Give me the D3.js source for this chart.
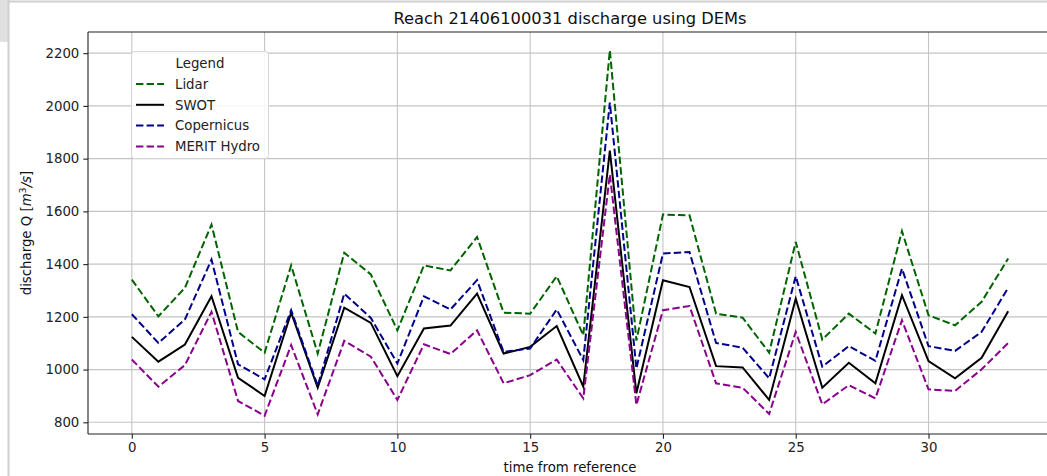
<!DOCTYPE html>
<html>
<head>
<meta charset="utf-8">
<script src="https://cdn.jsdelivr.net/npm/d3@7"></script>
<style>
  html, body { margin: 0; padding: 0; background: #fff; }
  svg { display: block; font-family: "DejaVu Sans", sans-serif; }
</style>
</head>
<body>
<svg id="chart" width="1047" height="476"></svg>
<script>
const times = d3.range(0, 34);
const lidar = [1341, 1202, 1310, 1550, 1143, 1064, 1395, 1061, 1443, 1361,
               1149, 1395, 1376, 1503, 1216, 1212, 1354, 1130, 2211, 1110,
               1588, 1585, 1212, 1197, 1064, 1484, 1114, 1212, 1137, 1525,
               1206, 1168, 1257, 1421];
const swot = [1124, 1030, 1095, 1278, 969, 900, 1216, 931, 1235, 1177,
              975, 1156, 1167, 1288, 1061, 1086, 1165, 935, 1830, 910,
              1339, 1313, 1013, 1008, 885, 1269, 931, 1026, 948, 1282,
              1032, 967, 1045, 1221];
const copernicus = [1210, 1101, 1190, 1417, 1020, 963, 1225, 938, 1288, 1196,
                    1023, 1278, 1228, 1339, 1067, 1080, 1228, 1036, 2013, 1004,
                    1440, 1446, 1101, 1083, 967, 1354, 1011, 1089, 1033, 1383,
                    1089, 1071, 1143, 1310];
const merit = [1038, 935, 1017, 1219, 881, 825, 1093, 830, 1109, 1049,
               885, 1096, 1059, 1149, 948, 979, 1038, 891, 1740, 866,
               1225, 1241, 948, 931, 832, 1143, 868, 941, 891, 1187,
               925, 919, 1001, 1101];
const xTicks = [0, 5, 10, 15, 20, 25, 30];
const yTicks = [800, 1000, 1200, 1400, 1600, 1800, 2000, 2200];
const seriesNames = ["Lidar", "SWOT", "Copernicus", "MERIT Hydro"];
const seriesColors = ["#006400", "#000000", "#00008b", "#8b008b"];
const seriesDashed = [true, false, true, true];
const seriesValues = [lidar, swot, copernicus, merit];

const svg = d3.select("#chart");
const W = 1047, H = 476;
const L = 88, R = 1052, T = 32, B = 434;

// notebook frame decoration
svg.append("rect").attr("x", 0).attr("y", 0).attr("width", 8).attr("height", 42).attr("fill", "#e0e0e0");
svg.append("line").attr("x1", 8.5).attr("x2", 8.5).attr("y1", 0).attr("y2", H).attr("stroke", "#d0d0d0").attr("stroke-width", 2);
svg.append("line").attr("x1", 8).attr("x2", W).attr("y1", 1.5).attr("y2", 1.5).attr("stroke", "#d0d0d0").attr("stroke-width", 2);

const x = d3.scaleLinear().domain([-1.65, 34.65]).range([L, R]);
const y = d3.scaleLinear().domain([755.7, 2280.3]).range([B, T]);

// grid
const grid = svg.append("g");
grid.selectAll(".gx").data(xTicks).enter().append("line")
  .attr("x1", d => x(d)).attr("x2", d => x(d)).attr("y1", T).attr("y2", B)
  .attr("stroke", "#c4c4c4").attr("stroke-width", 1.1);
grid.selectAll(".gy").data(yTicks).enter().append("line")
  .attr("x1", L).attr("x2", R).attr("y1", d => y(d)).attr("y2", d => y(d))
  .attr("stroke", "#c4c4c4").attr("stroke-width", 1.1);

// lines
const clip = svg.append("clipPath").attr("id", "clip").append("rect")
  .attr("x", L).attr("y", T).attr("width", R - L).attr("height", B - T);
const lineGen = d3.line().x((d, i) => x(times[i])).y(d => y(d));
const plot = svg.append("g").attr("clip-path", "url(#clip)");
seriesValues.forEach((vals, k) => {
  plot.append("path").datum(vals)
    .attr("d", lineGen)
    .attr("fill", "none")
    .attr("stroke", seriesColors[k])
    .attr("stroke-width", 2)
    .attr("stroke-linejoin", "miter")
    .attr("stroke-dasharray", seriesDashed[k] ? "7.4,3.2" : null);
});

// axes
const xAxis = d3.axisBottom(x).tickValues(xTicks).tickSize(4.7).tickPadding(4).tickFormat(d3.format("d"));
const yAxis = d3.axisLeft(y).tickValues(yTicks).tickSize(4.7).tickPadding(4).tickFormat(d3.format("d"));
const gx = svg.append("g").attr("transform", `translate(0,${B})`).call(xAxis);
const gy = svg.append("g").attr("transform", `translate(${L},0)`).call(yAxis);
[gx, gy].forEach(g => {
  g.select(".domain").remove();
  g.selectAll(".tick line").attr("stroke", "#222").attr("stroke-width", 1.1);
  g.selectAll(".tick text").attr("fill", "#222").style("font-size", "13.3px").style("font-family", "DejaVu Sans");
});
// spines
svg.append("line").attr("x1", L).attr("x2", L).attr("y1", T).attr("y2", B).attr("stroke", "#222").attr("stroke-width", 1.1);
svg.append("line").attr("x1", L).attr("x2", R).attr("y1", B).attr("y2", B).attr("stroke", "#222").attr("stroke-width", 1.1);
svg.append("line").attr("x1", L).attr("x2", R).attr("y1", T).attr("y2", T).attr("stroke", "#222").attr("stroke-width", 1.1);

// title
svg.append("text").attr("x", (L + R) / 2).attr("y", 23.5).attr("text-anchor", "middle")
  .style("font-size", "16.3px").attr("fill", "#111").text("Reach 21406100031 discharge using DEMs");

// x label
svg.append("text").attr("x", (L + R) / 2).attr("y", 472).attr("text-anchor", "middle")
  .style("font-size", "13.3px").attr("fill", "#111").text("time from reference");

// y label
const yl = svg.append("text").attr("transform", `translate(31,${(T + B) / 2}) rotate(-90)`)
  .attr("text-anchor", "middle").style("font-size", "13.3px").attr("fill", "#111");
yl.append("tspan").text("discharge Q [");
yl.append("tspan").style("font-style", "italic").text("m");
yl.append("tspan").attr("dy", -5).style("font-size", "9.5px").text("3");
yl.append("tspan").attr("dy", 5).style("font-style", "italic").text("/s");
yl.append("tspan").text("]");

// legend
const lg = svg.append("g");
lg.append("rect").attr("x", 131.5).attr("y", 51.5).attr("width", 137).attr("height", 107)
  .attr("rx", 3).attr("fill", "#fff").attr("fill-opacity", 0.85).attr("stroke", "#d6d6d6").attr("stroke-width", 1);
lg.append("text").attr("x", 200).attr("y", 68).attr("text-anchor", "middle")
  .style("font-size", "13.3px").attr("fill", "#222").text("Legend");
seriesNames.forEach((name, k) => {
  const yy = 84 + k * 20.8;
  lg.append("line").attr("x1", 136).attr("x2", 164).attr("y1", yy).attr("y2", yy)
    .attr("stroke", seriesColors[k]).attr("stroke-width", 2)
    .attr("stroke-dasharray", seriesDashed[k] ? "7.4,3.2" : null);
  lg.append("text").attr("x", 175).attr("y", yy + 4.8)
    .style("font-size", "13.3px").attr("fill", "#222").text(name);
});
</script>
</body>
</html>
